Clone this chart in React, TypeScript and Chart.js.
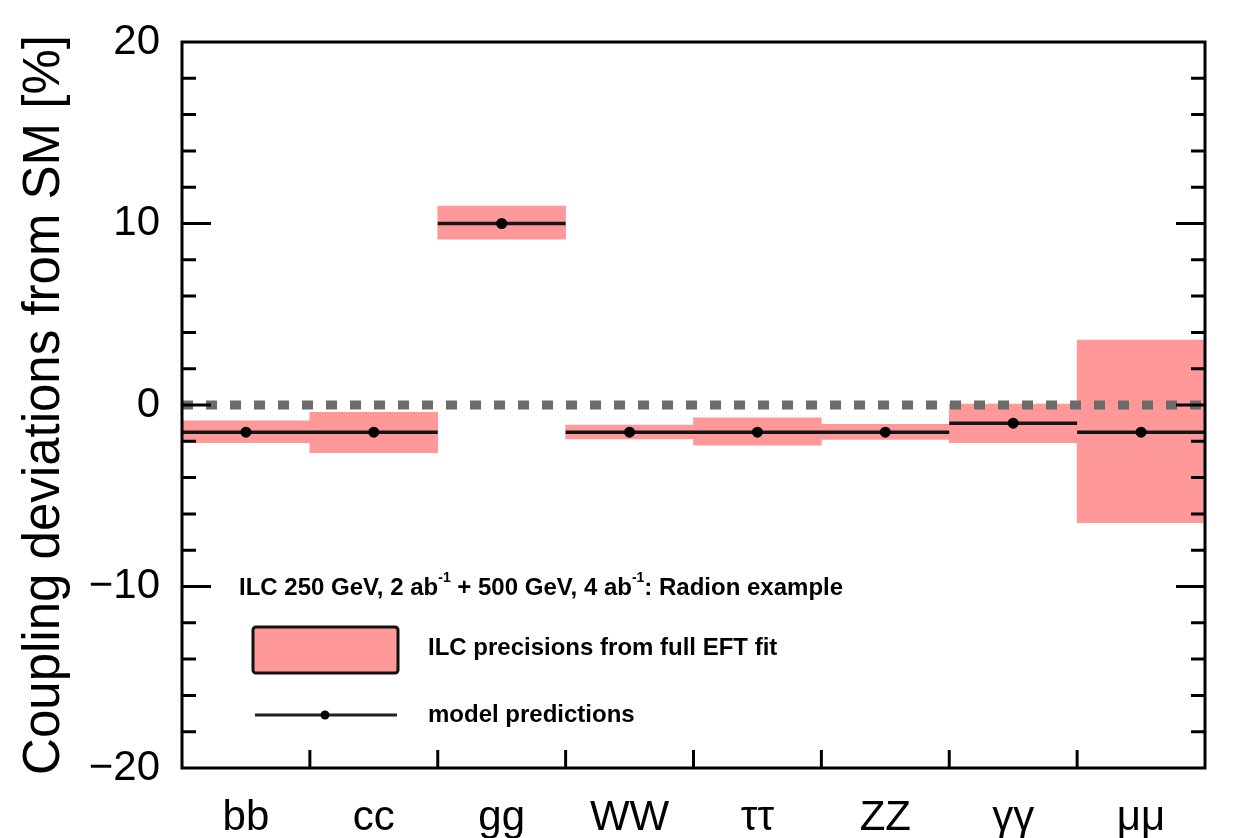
import React, { useEffect, useRef } from 'react';
import { Chart, registerables } from 'chart.js';

Chart.register(...registerables);

// ---- data ----
const categories = ['bb', 'cc', 'gg', 'WW', 'ττ', 'ZZ', 'γγ', 'μμ'];
const precisionUpper = [-0.87, -0.4, 10.96, -1.1, -0.7, -1.07, 0.05, 3.58];
const precisionLower = [-2.08, -2.63, 9.13, -1.87, -2.22, -1.9, -2.08, -6.48];
const modelPredictions = [-1.5, -1.5, 10.0, -1.5, -1.5, -1.5, -1.0, -1.5];
const yMajorTicks = [-20, -10, 0, 10, 20];
const yMin = -20;
const yMax = 20;
const yTitle = 'Coupling deviations from SM [%]';
const legendHeaderParts: { text: string; sup?: boolean }[] = [
  { text: 'ILC 250 GeV, 2 ab' },
  { text: '-1', sup: true },
  { text: ' + 500 GeV, 4 ab' },
  { text: '-1', sup: true },
  { text: ': Radion example' },
];
const legendBoxLabel = 'ILC precisions from full EFT fit';
const legendLineLabel = 'model predictions';

const PINK = '#ff9999';
const FONT = "'Liberation Sans', Arial, Helvetica, sans-serif";

const framePlugin = {
  id: 'frameAndLegend',
  afterDraw(chart: any) {
    const { ctx, chartArea: a, scales } = chart;
    const y = scales.y;
    const x2 = scales.x2;
    ctx.save();
    // frame
    ctx.strokeStyle = '#000';
    ctx.lineWidth = 3;
    ctx.strokeRect(a.left, a.top, a.right - a.left, a.bottom - a.top);
    // y inward ticks (left and right)
    y.ticks.forEach((t: any) => {
      const v = t.value;
      if (v <= yMin || v >= yMax) return;
      const py = y.getPixelForValue(v);
      const len = yMajorTicks.includes(v) ? 29 : 14;
      ctx.beginPath();
      ctx.moveTo(a.left, py);
      ctx.lineTo(a.left + len, py);
      ctx.moveTo(a.right, py);
      ctx.lineTo(a.right - len, py);
      ctx.stroke();
    });
    // x inward ticks at category boundaries
    for (let i = 1; i < categories.length; i++) {
      const px = x2.getPixelForValue(i);
      ctx.beginPath();
      ctx.moveTo(px, a.bottom);
      ctx.lineTo(px, a.bottom - 18);
      ctx.stroke();
    }

    // legend
    const lx = a.left;
    const lb = a.bottom;
    ctx.fillStyle = '#000';
    ctx.textBaseline = 'middle';
    ctx.textAlign = 'left';
    let cx = lx + 57;
    const hy = lb - 180;
    legendHeaderParts.forEach((p) => {
      if (p.sup) {
        ctx.font = `bold 14px ${FONT}`;
        ctx.fillText(p.text, cx, hy - 10);
      } else {
        ctx.font = `bold 24px ${FONT}`;
        ctx.fillText(p.text, cx, hy);
      }
      cx += ctx.measureText(p.text).width;
    });
    // box sample
    const bx = lx + 71, by = lb - 141, bw = 145, bh = 46;
    ctx.beginPath();
    if (ctx.roundRect) ctx.roundRect(bx, by, bw, bh, 3);
    else ctx.rect(bx, by, bw, bh);
    ctx.fillStyle = PINK;
    ctx.fill();
    ctx.lineWidth = 3;
    ctx.strokeStyle = '#111';
    ctx.stroke();
    ctx.fillStyle = '#000';
    ctx.font = `bold 24px ${FONT}`;
    ctx.fillText(legendBoxLabel, lx + 246, lb - 120);
    // line sample
    const ly = lb - 53;
    ctx.beginPath();
    ctx.moveTo(lx + 73, ly);
    ctx.lineTo(lx + 215, ly);
    ctx.lineWidth = 3;
    ctx.strokeStyle = '#222';
    ctx.stroke();
    ctx.beginPath();
    ctx.arc(lx + 143, ly, 4.5, 0, Math.PI * 2);
    ctx.fillStyle = '#000';
    ctx.fill();
    ctx.fillText(legendLineLabel, lx + 246, ly);
    ctx.restore();
  },
};

export default function App() {
  const ref = useRef<HTMLCanvasElement>(null);
  useEffect(() => {
    document.body.style.margin = '0';
    const canvas = ref.current;
    if (!canvas) return;

    const segmentData: any[] = [];
    modelPredictions.forEach((v, i) => {
      segmentData.push({ x: i, y: v });
      segmentData.push({ x: i + 1, y: v });
      segmentData.push({ x: i + 1, y: null });
    });

    const chart = new Chart(canvas, {
      type: 'bar',
      data: {
        labels: categories,
        datasets: [
          {
            type: 'bar',
            label: legendBoxLabel,
            data: categories.map((_, i) => [precisionLower[i], precisionUpper[i]]),
            backgroundColor: PINK,
            borderWidth: 0,
            barPercentage: 1,
            categoryPercentage: 1,
            grouped: false,
            xAxisID: 'x',
            order: 4,
          } as any,
          {
            type: 'line',
            label: 'zero',
            data: [
              { x: 0, y: 0 },
              { x: categories.length, y: 0 },
            ],
            xAxisID: 'x2',
            borderColor: '#6b6b6b',
            borderWidth: 9,
            borderDash: [11, 13],
            borderCapStyle: 'butt',
            pointRadius: 0,
            order: 3,
          } as any,
          {
            type: 'line',
            label: legendLineLabel,
            data: segmentData,
            xAxisID: 'x2',
            borderColor: '#151515',
            borderWidth: 3.5,
            pointRadius: 0,
            spanGaps: false,
            order: 2,
          } as any,
          {
            type: 'scatter',
            label: 'points',
            data: modelPredictions.map((v, i) => ({ x: i + 0.5, y: v })),
            xAxisID: 'x2',
            backgroundColor: '#000',
            borderColor: '#000',
            pointRadius: 5.5,
            pointBorderWidth: 0,
            order: 1,
          } as any,
        ],
      },
      options: {
        responsive: false,
        animation: false,
        devicePixelRatio: 1,
        layout: { padding: { left: 0, right: 31, top: 42, bottom: 0 } },
        plugins: {
          legend: { display: false },
          tooltip: { enabled: false },
        },
        scales: {
          x: {
            type: 'category',
            offset: true,
            grid: { display: false, drawTicks: false },
            border: { display: false },
            ticks: {
              color: '#000',
              font: { family: FONT, size: 42 },
              padding: 25,
              maxRotation: 0,
              autoSkip: false,
            },
            afterFit: (s: any) => {
              s.height = 70;
              s.paddingLeft = 0;
              s.paddingRight = 0;
            },
          },
          x2: {
            type: 'linear',
            min: 0,
            max: categories.length,
            offset: false,
            display: false,
          },
          y: {
            type: 'linear',
            min: yMin,
            max: yMax,
            grid: { display: false, drawTicks: false },
            border: { display: false },
            ticks: {
              stepSize: 2,
              autoSkip: false,
              color: '#000',
              font: { family: FONT, size: 42 },
              padding: 22,
              callback: (v: any) =>
                yMajorTicks.includes(v) ? (v < 0 ? '\u2212' + Math.abs(v) : String(v)) : '',
            },
            title: {
              display: true,
              text: yTitle,
              color: '#000',
              font: { family: FONT, size: 51 },
              padding: { top: 14, bottom: 0 },
            },
            afterFit: (s: any) => {
              s.width = 182;
              s.paddingTop = 0;
              s.paddingBottom = 0;
            },
          },
        },
      },
      plugins: [framePlugin],
    });
    return () => chart.destroy();
  }, []);

  return (
    <div style={{ width: 1236, height: 838 }}>
      <canvas ref={ref} width={1236} height={838} style={{ display: 'block' }} />
    </div>
  );
}
